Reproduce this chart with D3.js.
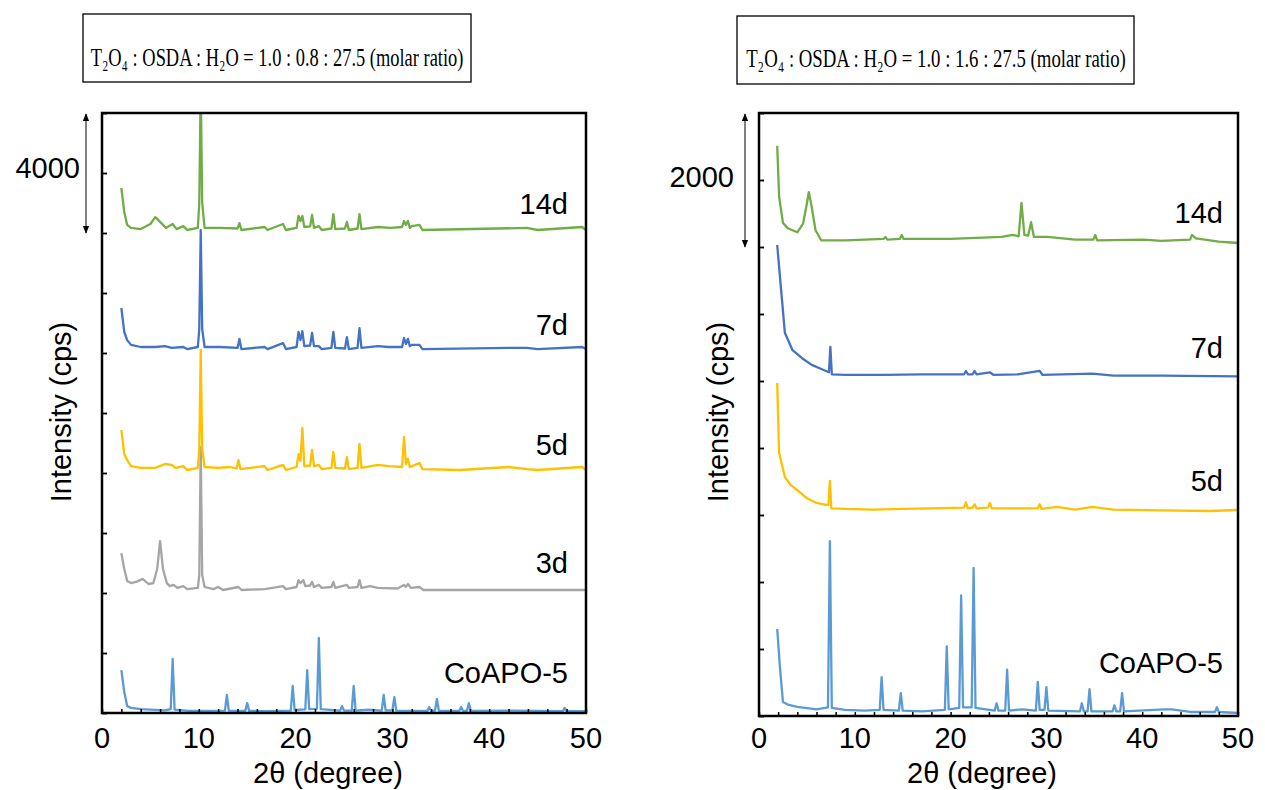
<!DOCTYPE html>
<html>
<head>
<meta charset="utf-8">
<script src="https://d3js.org/d3.v7.min.js"></script>
<style>
  body { margin: 0; background: #fff; }
  text { font-family: "Liberation Sans", Arial, sans-serif; fill: #000; }
  .ttl { font-family: "Liberation Serif", "Times New Roman", "DejaVu Serif", serif; }
</style>
</head>
<body>
<div id="chart"></div>
<script>
// ---------- data (2θ in degree, intensity in cps, already stacked) ----------
const xTickLabels = [0, 10, 20, 30, 40, 50];
const seriesNames = ["CoAPO-5", "3d", "5d", "7d", "14d"];
const seriesColors = { "CoAPO-5": "#5B9BD5", "3d": "#A5A5A5", "5d": "#FFC000", "7d": "#4472C4", "14d": "#70AD47" };

const leftCoapo5 = [[2.0,1430],[2.3,700],[2.6,230],[3.0,170],[4,130],[5,110],[6.5,90],[7.1,130],[7.3,1800],[7.5,110],[9,70],[11,70],[12.7,80],[12.9,600],[13.1,80],[14.8,70],[15.0,330],[15.2,70],[17,60],[19.5,80],[19.7,900],[19.9,100],[21.0,120],[21.2,1430],[21.4,130],[22.2,140],[22.4,2500],[22.6,130],[24.6,80],[24.8,230],[25.0,80],[25.8,80],[26.0,900],[26.2,80],[27.5,110],[28.9,80],[29.1,600],[29.3,90],[30.0,90],[30.2,530],[30.4,80],[33.6,70],[33.8,200],[34.0,70],[34.4,80],[34.6,470],[34.8,70],[36.9,70],[37.1,200],[37.3,70],[37.7,70],[37.9,330],[38.1,70],[42.5,80],[47.6,60],[47.8,170],[48.0,60],[50,60]];
const left3d = [[2.0,5330],[2.3,4800],[2.6,4400],[3.0,4330],[3.6,4380],[4.2,4470],[4.8,4300],[5.3,4330],[5.7,4800],[6.0,5730],[6.3,4800],[6.7,4330],[7.0,4230],[7.4,4270],[7.8,4170],[8.4,4230],[8.8,4130],[9.9,4170],[10.05,4600],[10.2,8870],[10.35,4600],[10.6,4200],[11.5,4130],[12.0,4200],[12.5,4100],[14.1,4200],[14.4,4100],[16.8,4130],[18.7,4230],[19.0,4130],[20.1,4200],[20.3,4430],[20.5,4330],[20.8,4430],[21.0,4230],[21.5,4250],[21.7,4370],[21.9,4200],[22.4,4270],[22.7,4170],[23.7,4200],[23.9,4370],[24.1,4170],[25.3,4270],[25.5,4170],[26.4,4200],[26.6,4430],[26.8,4170],[27.7,4230],[28.5,4170],[30.5,4150],[31.2,4270],[31.4,4200],[31.6,4300],[31.9,4170],[32.8,4200],[33.2,4100],[36,4100],[40,4100],[45,4100],[50,4100]];
const left5d = [[2.0,9430],[2.3,8630],[2.6,8430],[3.0,8230],[4,8170],[5.5,8170],[6.5,8300],[7.2,8270],[7.6,8170],[8.4,8230],[8.8,8100],[9.9,8170],[10.05,8800],[10.2,12100],[10.35,8800],[10.6,8200],[12.0,8170],[13.2,8200],[13.9,8150],[14.1,8430],[14.3,8130],[16.8,8230],[17.1,8100],[18.7,8270],[19.0,8100],[20.1,8200],[20.3,8630],[20.5,8400],[20.7,9500],[20.9,8230],[21.5,8250],[21.7,8770],[21.9,8230],[22.4,8270],[22.7,8130],[23.7,8170],[23.9,8700],[24.1,8170],[25.1,8150],[25.3,8530],[25.5,8130],[26.4,8170],[26.6,8970],[26.8,8170],[28.5,8270],[29.6,8230],[31.0,8200],[31.2,9200],[31.4,8300],[31.6,8470],[31.8,8200],[32.8,8330],[33.1,8130],[37,8100],[42.0,8200],[43.9,8130],[45,8100],[49.6,8200],[50,8100]];
const left7d = [[2.0,13500],[2.3,12700],[2.6,12430],[3.0,12270],[4,12200],[5.5,12200],[6.5,12230],[7.2,12170],[8.4,12200],[8.8,12130],[9.9,12200],[10.05,12800],[10.2,16100],[10.35,12800],[10.6,12200],[12.2,12200],[14.0,12170],[14.2,12470],[14.4,12130],[16.8,12200],[17.1,12130],[18.7,12330],[19.0,12130],[20.1,12200],[20.3,12700],[20.5,12430],[20.7,12730],[20.9,12230],[21.5,12250],[21.7,12670],[21.9,12230],[22.4,12230],[22.7,12130],[23.7,12170],[23.9,12700],[24.1,12170],[25.1,12150],[25.3,12530],[25.5,12130],[26.4,12170],[26.6,12830],[26.8,12170],[28.5,12230],[29.6,12200],[31.0,12200],[31.2,12500],[31.4,12300],[31.6,12470],[31.8,12230],[32.0,12270],[32.8,12270],[33.1,12130],[42.0,12170],[43.9,12170],[45,12130],[49.6,12200],[50,12130]];
const left14d = [[2.0,17500],[2.3,16700],[2.6,16270],[3.0,16170],[4.0,16130],[5.0,16300],[5.5,16530],[6.0,16370],[6.6,16170],[7.3,16300],[7.7,16130],[8.4,16230],[8.8,16100],[9.9,16170],[10.05,17000],[10.2,21000],[10.35,17000],[10.6,16170],[12.2,16170],[14.0,16150],[14.2,16330],[14.4,16100],[16.8,16200],[17.1,16100],[18.7,16300],[19.0,16100],[20.1,16170],[20.3,16570],[20.5,16400],[20.7,16570],[20.9,16200],[21.5,16220],[21.7,16600],[21.9,16170],[22.4,16230],[22.7,16100],[23.7,16150],[23.9,16630],[24.1,16130],[25.1,16150],[25.3,16370],[25.5,16100],[26.4,16150],[26.6,16630],[26.8,16130],[28.5,16200],[29.8,16170],[31.0,16200],[31.2,16400],[31.4,16270],[31.6,16400],[31.8,16170],[32.0,16230],[32.8,16270],[33.1,16100],[43.9,16170],[45,16100],[49.6,16200],[50,16100]];

const rightCoapo5 = [[1.9,1300],[2.2,700],[2.5,210],[3.0,170],[4.0,135],[6.0,100],[7.2,130],[7.4,2610],[7.6,120],[9,90],[11,80],[12.6,90],[12.8,580],[13.0,90],[14.6,80],[14.8,340],[15.0,80],[17,70],[19.4,90],[19.6,1040],[19.8,100],[20.9,120],[21.1,1800],[21.3,130],[22.2,130],[22.4,2210],[22.6,120],[24.6,80],[24.8,190],[25.0,80],[25.7,80],[25.9,690],[26.1,80],[27.5,100],[28.9,80],[29.1,510],[29.3,90],[29.8,90],[30.0,430],[30.2,80],[33.5,70],[33.7,190],[33.9,70],[34.3,70],[34.5,400],[34.7,70],[36.9,70],[37.1,160],[37.3,70],[37.7,70],[37.9,340],[38.1,70],[42.3,100],[43.1,100],[45,60],[47.6,60],[47.8,130],[48.0,60],[50,45]];
const right5d = [[1.9,4970],[2.1,3925],[2.7,3570],[3.3,3450],[4.0,3370],[5.0,3250],[6.0,3180],[7.0,3150],[7.25,3150],[7.4,3510],[7.55,3100],[9,3090],[12,3080],[15,3090],[18,3100],[21.4,3110],[21.6,3190],[21.8,3100],[22.3,3110],[22.5,3160],[22.7,3100],[23.9,3110],[24.1,3180],[24.3,3100],[27,3100],[29.1,3100],[29.3,3160],[29.5,3090],[31.1,3120],[33,3080],[34.8,3120],[37,3080],[42,3070],[47,3060],[50,3075]];
const right7d = [[1.9,7030],[2.4,6210],[2.7,5720],[3.5,5460],[4.5,5340],[5.5,5240],[6.5,5180],[7.3,5130],[7.45,5510],[7.6,5100],[9,5090],[13,5090],[17,5100],[21.4,5100],[21.6,5150],[21.8,5100],[22.3,5100],[22.5,5150],[22.7,5100],[24.1,5130],[24.5,5090],[27,5100],[29.3,5150],[29.6,5090],[34.8,5110],[37,5080],[42,5080],[50,5070]];
const right14d = [[1.9,8510],[2.1,7750],[2.5,7360],[3.0,7280],[4.0,7220],[4.6,7350],[5.0,7650],[5.2,7820],[5.5,7600],[5.9,7250],[6.5,7100],[9,7100],[13.0,7120],[13.2,7150],[13.4,7110],[14.7,7120],[14.9,7180],[15.1,7120],[20,7120],[25.3,7150],[26.5,7180],[27.1,7160],[27.4,7660],[27.7,7180],[28.1,7170],[28.4,7370],[28.7,7150],[30.1,7150],[33,7110],[34.9,7110],[35.1,7180],[35.3,7100],[40.1,7110],[42,7090],[45.0,7110],[45.2,7180],[45.6,7130],[48,7080],[50,7060]];

const titles = ["T₂O₄ : OSDA : H₂O = 1.0 : 0.8 : 27.5 (molar ratio)",
                "T₂O₄ : OSDA : H₂O = 1.0 : 1.6 : 27.5 (molar ratio)"];

// ---------- layout ----------
const panels = [
  { left: 102, right: 586, top: 113, bottom: 713, yMax: 20000, yStep: 2000, bar: 4000, arrowX: 86, barLabelX: 80, barLabelY: 178,
    box: [83, 14, 388, 68], titleX: 277, titleY: 66, titleLen: 373, ylabX: 71, xlabX: 328,
    data: [leftCoapo5, left3d, left5d, left7d, left14d], names: seriesNames,
    labelX: 568, labelY: { "CoAPO-5": 683, "3d": 573, "5d": 455, "7d": 335, "14d": 214 }, title: titles[0] },
  { left: 759, right: 1238, top: 113, bottom: 716, yMax: 9000, yStep: 1000, bar: 2000, arrowX: 745, barLabelX: 734, barLabelY: 187,
    box: [737, 16, 397, 68], titleX: 936, titleY: 67, titleLen: 380, ylabX: 728, xlabX: 982,
    data: [rightCoapo5, right5d, right7d, right14d], names: ["CoAPO-5", "5d", "7d", "14d"],
    labelX: 1223, labelY: { "CoAPO-5": 673, "5d": 491, "7d": 358, "14d": 223 }, title: titles[1] }
];

const svg = d3.select("#chart").append("svg")
  .attr("width", 1265).attr("height", 790);

const defs = svg.append("defs");
defs.append("marker").attr("id", "ah").attr("viewBox", "0 0 10 10")
  .attr("refX", 9).attr("refY", 5).attr("markerWidth", 8).attr("markerHeight", 8)
  .attr("orient", "auto-start-reverse").attr("markerUnits", "userSpaceOnUse")
  .append("path").attr("d", "M0,1 L10,5 L0,9 Z").attr("fill", "#000");

panels.forEach(function (p, i) {
  const x = d3.scaleLinear().domain([0, 50]).range([p.left, p.right]);
  const y = d3.scaleLinear().domain([0, p.yMax]).range([p.bottom, p.top]);
  const g = svg.append("g");

  defs.append("clipPath").attr("id", "clip" + i).append("rect")
    .attr("x", p.left).attr("y", p.top).attr("width", p.right - p.left).attr("height", p.bottom - p.top);

  // traces
  const line = d3.line().x(d => x(d[0])).y(d => y(d[1]));
  p.data.forEach(function (s, k) {
    g.append("path").datum(s)
      .attr("clip-path", "url(#clip" + i + ")")
      .attr("d", line)
      .attr("fill", "none")
      .attr("stroke", seriesColors[p.names[k]])
      .attr("stroke-width", 2.3)
      .attr("stroke-linejoin", "round");
    g.append("text")
      .attr("x", p.labelX).attr("y", p.labelY[p.names[k]])
      .attr("text-anchor", "end").style("font-size", "29px")
      .text(p.names[k]);
  });

  // axes (inside ticks)
  g.append("g").attr("transform", `translate(0,${p.bottom})`)
    .call(d3.axisBottom(x).tickValues(d3.range(0, 51, 2)).tickSize(-4).tickFormat(""))
    .call(a => a.select(".domain").remove())
    .selectAll("line").attr("stroke", "#000").attr("stroke-width", 1.5);
  g.append("g").attr("transform", `translate(${p.left},0)`)
    .call(d3.axisLeft(y).tickValues(d3.range(0, p.yMax + 1, p.yStep)).tickSize(-5).tickFormat(""))
    .call(a => a.select(".domain").remove())
    .selectAll("line").attr("stroke", "#000").attr("stroke-width", 1.8);

  xTickLabels.forEach(function (t) {
    g.append("text").attr("x", x(t)).attr("y", 748)
      .attr("text-anchor", "middle").style("font-size", "29px").text(t);
  });

  g.append("rect")
    .attr("x", p.left).attr("y", p.top)
    .attr("width", p.right - p.left).attr("height", p.bottom - p.top)
    .attr("fill", "none").attr("stroke", "#000").attr("stroke-width", 2.5);

  g.append("text").attr("x", p.xlabX).attr("y", 783)
    .attr("text-anchor", "middle").style("font-size", "29px").text("2θ (degree)");
  g.append("text")
    .attr("transform", `translate(${p.ylabX},412) rotate(-90)`)
    .attr("text-anchor", "middle").style("font-size", "29px").text("Intensity (cps)");

  // scale bar
  g.append("line")
    .attr("x1", p.arrowX).attr("x2", p.arrowX)
    .attr("y1", y(p.yMax) + 1).attr("y2", y(p.yMax - p.bar))
    .attr("stroke", "#000").attr("stroke-width", 1)
    .attr("marker-start", "url(#ah)").attr("marker-end", "url(#ah)");
  g.append("text").attr("x", p.barLabelX).attr("y", p.barLabelY)
    .attr("text-anchor", "end").style("font-size", "29px").text(p.bar);

  // composition box; title squeezed horizontally to the box width
  g.append("rect")
    .attr("x", p.box[0]).attr("y", p.box[1]).attr("width", p.box[2]).attr("height", p.box[3])
    .attr("fill", "none").attr("stroke", "#000").attr("stroke-width", 1.3);
  const tt = g.append("text").attr("class", "ttl")
    .attr("text-anchor", "middle").style("font-size", "26px")
    .text(p.title);
  const sx = Math.min(1, p.titleLen / tt.node().getComputedTextLength());
  tt.attr("transform", `translate(${p.titleX},${p.titleY}) scale(${sx},1)`);
});
</script>
</body>
</html>
